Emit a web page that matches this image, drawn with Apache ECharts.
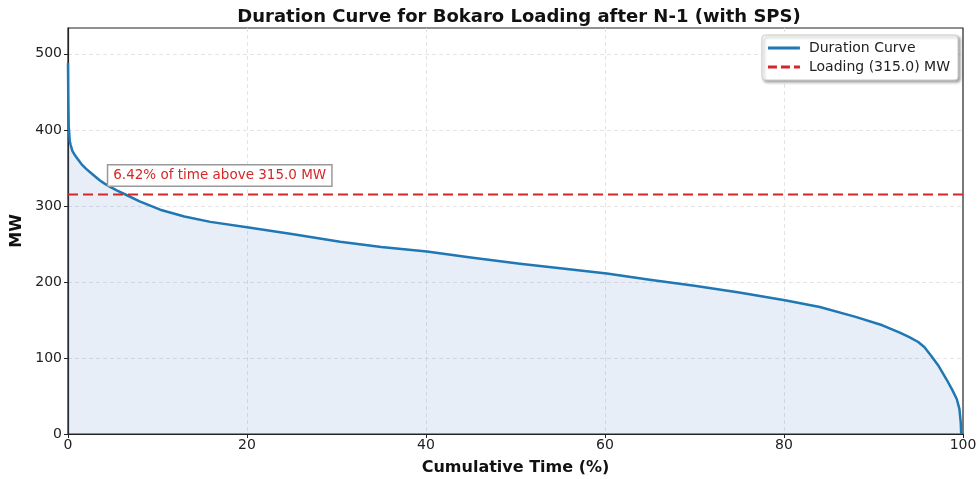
<!DOCTYPE html>
<html>
<head>
<meta charset="utf-8">
<script src="https://cdn.jsdelivr.net/npm/echarts@6/dist/echarts.min.js"></script>
<style>
  html, body { margin: 0; padding: 0; background: #fff; }
  #chart { width: 978px; height: 479px; }
</style>
</head>
<body>
<div id="chart"></div>
<script>
// cumulative time (%) and loading (MW)
const timePct = [0, 0.03, 0.08, 0.2, 0.3, 0.5, 0.7, 1, 1.5, 2, 2.5, 3, 3.5, 4, 4.7, 5.5, 6.42, 8, 10.3, 13, 15.9, 20, 25, 30.4, 35, 40.1, 45, 50.5, 55, 60.2, 65, 70, 75, 80.1, 84, 88, 91, 92, 93, 94, 95, 95.7, 96.5, 97.3, 98.2, 98.8, 99.3, 99.6, 99.75, 99.8];
const loadMW = [488, 440, 405, 385, 380, 372, 368, 363, 355, 349, 344, 339, 334, 330, 325, 320, 315, 306, 295, 286, 279, 272, 263, 253, 246, 240, 232, 224, 218, 211, 203, 195, 186, 176, 167, 154, 143, 138, 133, 127.5, 121, 114, 102, 89, 71, 58, 46, 33, 15, 0];
const threshold = 315.0;
const pctAbove = 6.42;
const xTicks = [0, 20, 40, 60, 80, 100];
const yTicks = [0, 100, 200, 300, 400, 500];

const font = 'DejaVu Sans';
let chart = echarts.init(document.getElementById('chart'));

let curveData = timePct.map((t, i) => [t, loadMW[i]]);

let option = {
  animation: false,
  textStyle: { fontFamily: font },
  title: {
    text: 'Duration Curve for Bokaro Loading after N-1 (with SPS)',
    left: 514,
    top: 3,
    textAlign: 'center',
    textStyle: { fontFamily: font, fontSize: 18, fontWeight: 'bold', color: '#111' },
  },
  legend: {
    orient: 'vertical',
    right: 20,
    top: 35,
    padding: [6, 8, 6, 6],
    itemGap: 5,
    itemWidth: 32,
    itemHeight: 3,
    backgroundColor: '#fff',
    borderColor: '#ccc',
    borderWidth: 1,
    borderRadius: 3,
    shadowColor: 'rgba(0,0,0,0.35)',
    shadowBlur: 3,
    shadowOffsetX: 2,
    shadowOffsetY: 2,
    textStyle: { fontFamily: font, fontSize: 14, color: '#222', padding: [0, 0, 0, 4] },
    data: [
      { name: 'Duration Curve', icon: 'rect' },
      { name: 'Loading (315.0) MW', icon: 'path://M0,0h9v3h-9z M13,0h9v3h-9z M26,0h6v3h-6z' },
    ],
  },
  grid: {
    left: 68,
    right: 15,
    top: 28,
    bottom: 45,
    outerBoundsMode: 'none',
    show: true,
    borderColor: '#222',
    borderWidth: 1.2,
    backgroundColor: '#fff',
  },
  xAxis: {
    type: 'value',
    min: 0,
    max: 100,
    interval: 20,
    name: 'Cumulative Time (%)',
    nameLocation: 'middle',
    nameGap: 26,
    nameTextStyle: { fontFamily: font, fontSize: 16, fontWeight: 'bold', color: '#111' },
    axisLine: { show: true, lineStyle: { color: '#222', width: 1.2 } },
    axisTick: { show: true, length: 4, lineStyle: { color: '#222' } },
    axisLabel: {
      fontSize: 14, color: '#222', margin: 4,
      formatter: v => (xTicks.includes(v) ? String(v) : ''),
    },
    splitLine: { show: true, showMinLine: false, showMaxLine: false, lineStyle: { color: '#ddd', type: [4, 3], width: 0.8 } },
  },
  yAxis: {
    type: 'value',
    min: 0,
    max: 534,
    interval: 100,
    name: 'MW',
    nameLocation: 'middle',
    nameGap: 33,
    nameRotate: 90,
    nameTextStyle: { fontFamily: font, fontSize: 16, fontWeight: 'bold', color: '#111' },
    axisLine: { show: true, lineStyle: { color: '#222', width: 1.2 } },
    axisTick: { show: true, length: 4, lineStyle: { color: '#222' } },
    axisLabel: {
      fontSize: 14, color: '#222', margin: 6,
      showMaxLabel: false,
      formatter: v => (yTicks.includes(v) ? String(v) : ''),
    },
    splitLine: { show: true, showMinLine: false, showMaxLine: false, lineStyle: { color: '#ddd', type: [4, 3], width: 0.8 } },
  },
  series: [
    {
      name: 'Duration Curve',
      type: 'line',
      data: curveData,
      symbol: 'none',
      smooth: false,
      lineStyle: { color: '#1f77b4', width: 2.5, join: 'round' },
      itemStyle: { color: '#1f77b4' },
      areaStyle: { color: 'rgba(70, 120, 195, 0.18)', origin: 'start' },
      z: 3,
    },
    {
      name: 'Loading (315.0) MW',
      type: 'line',
      data: [[0, threshold], [100, threshold]],
      symbol: 'none',
      lineStyle: { color: '#d62728', width: 2, type: [10, 5] },
      itemStyle: { color: '#d62728' },
      z: 4,
      markPoint: {
        symbol: 'circle',
        symbolSize: 0,
        data: [{
          coord: [4.5, 340],
          label: {
            show: true,
            position: 'right',
            distance: 0,
            formatter: pctAbove.toFixed(2) + '% of time above ' + threshold.toFixed(1) + ' MW',
            fontFamily: font,
            fontSize: 13.5,
            color: '#d62728',
            backgroundColor: '#fff',
            borderColor: '#999',
            borderWidth: 1.5,
            padding: [3, 5, 3, 5],
          },
        }],
      },
    },
  ],
};

chart.setOption(option);
</script>
</body>
</html>
